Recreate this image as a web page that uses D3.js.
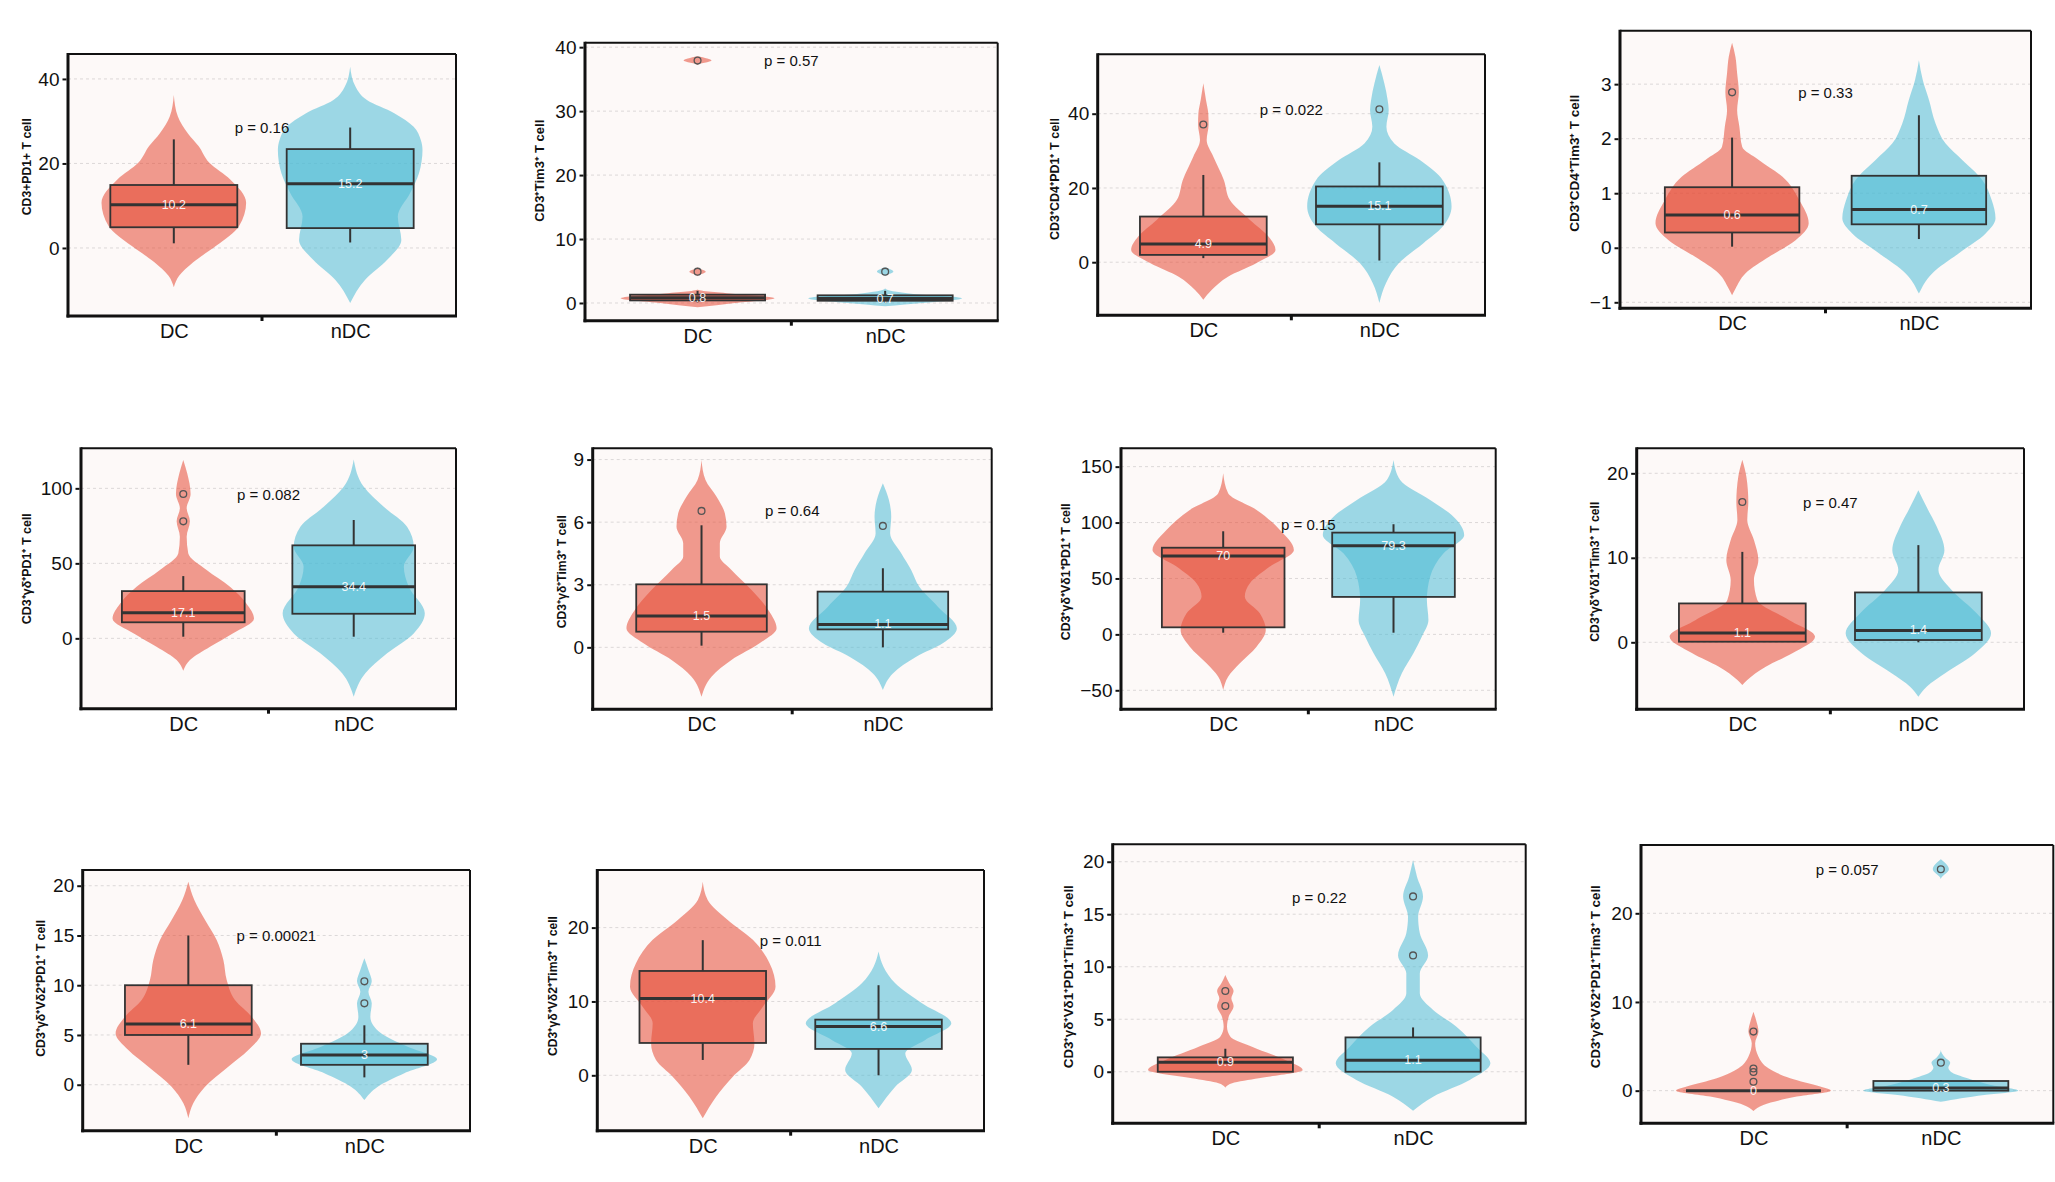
<!DOCTYPE html>
<html>
<head>
<meta charset="utf-8">
<script src="https://cdn.jsdelivr.net/npm/d3@7"></script>
<style>
  html, body { margin: 0; padding: 0; background: #ffffff; }
  #chart { width: 2055px; height: 1182px; }
</style>
</head>
<body>
<div id="chart"></div>
<script>
// data
const groups = ['DC', 'nDC'];

const cellTypes = [
    'CD3+PD1+ T cell',
    'CD3⁺Tim3⁺ T cell',
    'CD3⁺CD4⁺PD1⁺ T cell',
    'CD3⁺CD4⁺Tim3⁺ T cell',
    'CD3⁺γδ⁺PD1⁺ T cell',
    'CD3⁺γδ⁺Tim3⁺ T cell',
    'CD3⁺γδ⁺Vδ1⁺PD1⁺ T cell',
    'CD3⁺γδ⁺Vδ1⁺Tim3⁺ T cell',
    'CD3⁺γδ⁺Vδ2⁺PD1⁺ T cell',
    'CD3⁺γδ⁺Vδ2⁺Tim3⁺ T cell',
    'CD3⁺γδ⁺Vδ1⁺PD1⁺Tim3⁺ T cell',
    'CD3⁺γδ⁺Vδ2⁺PD1⁺Tim3⁺ T cell'
];

const pValues = ['0.16', '0.57', '0.022', '0.33', '0.082', '0.64', '0.15', '0.47', '0.00021', '0.011', '0.22', '0.057'];
const pLabelY = [28.5, 37.9, 41.2, 2.85, 96.2, 6.54, 98.5, 16.6, 15.0, 18.3, 16.6, 24.97];

const yLimits = [
    [-16.1, 45.9], [-2.77, 40.7], [-14.3, 56.0], [-1.11, 3.98],
    [-46.9, 126.7], [-2.97, 9.54], [-67, 166.4], [-7.93, 22.96],
    [-4.62, 21.58], [-7.5, 27.8], [-4.91, 21.66], [-3.68, 27.7]
];

const yTicks = [
    [0, 20, 40], [0, 10, 20, 30, 40], [0, 20, 40], [-1, 0, 1, 2, 3],
    [0, 50, 100], [0, 3, 6, 9], [-50, 0, 50, 100, 150], [0, 10, 20],
    [0, 5, 10, 15, 20], [0, 10, 20], [0, 5, 10, 15, 20], [0, 10, 20]
];

// [DC, nDC] per panel
const medians = [
    [10.2, 15.2], [0.8, 0.7], [4.9, 15.1], [0.6, 0.7],
    [17.1, 34.4], [1.5, 1.1], [70, 79.3], [1.1, 1.4],
    [6.1, 3], [10.4, 6.6], [0.9, 1.1], [0, 0.3]
];
const q1 = [
    [4.9, 4.7], [0.4, 0.35], [1.97, 10.2], [0.28, 0.43],
    [10.7, 16.4], [0.75, 0.86], [6.3, 33.5], [0.07, 0.27],
    [5.0, 2.0], [4.38, 3.57], [0, 0], [0, 0]
];
const q3 = [
    [14.9, 23.4], [1.3, 1.2], [12.3, 20.4], [1.11, 1.32],
    [31.5, 62.0], [3.02, 2.67], [77.5, 91.0], [4.6, 5.9],
    [10.0, 4.12], [14.13, 7.54], [1.37, 3.27], [0, 1.09]
];
const whiskerLow = [
    [1.1, 1.3], [0.1, 0.05], [1.1, 0.45], [0.02, 0.16],
    [1.1, 1.1], [0.08, 0], [1.5, 1.5], [0.07, 0],
    [2.0, 0.74], [2.08, 0], [0, 0], [0, 0]
];
const whiskerHigh = [
    [25.7, 28.5], [1.9, 1.9], [23.5, 26.9], [2.02, 2.43],
    [41.5, 78.9], [5.85, 3.79], [92.2, 98.5], [10.7, 11.5],
    [15.0, 5.97], [18.3, 12.2], [2.19, 4.22], [0, 1.2]
];
const outliers = [
    [[], []], [[4.9, 37.9], [4.9]], [[37.1], [41.2]], [[2.85], []],
    [[96.2, 78.0], []], [[6.54], [5.82]], [[], []], [[16.6], []],
    [[], [10.39, 8.18]], [[], []], [[7.69, 6.26], [16.7, 11.08]], [[6.66, 2.5, 2.1, 1.0], [3.16, 24.97]]
];

// violin outlines: [value, half width in category steps]
const violinDC = [
    [[-9.3, 0], [-6.6, 0.03], [-3.4, 0.11], [0.5, 0.24], [5.2, 0.37], [10.7, 0.41], [16.2, 0.32], [20.2, 0.2], [24.1, 0.14], [27.1, 0.08], [31.1, 0.023], [36.2, 0]],
    [[-0.67, 0], [0, 0.2], [0.75, 0.41], [1.4, 0.2], [2.1, 0], [4.2, 0], [4.9, 0.044], [5.6, 0], [37.2, 0], [37.9, 0.075], [38.6, 0]],
    [[-10.1, 0], [-7.5, 0.047], [-3.9, 0.14], [-0.27, 0.30], [3.3, 0.41], [6.9, 0.37], [11.4, 0.265], [16.8, 0.15], [22.1, 0.117], [28.4, 0.057], [32.9, 0.019], [37.1, 0.03], [40.1, 0.028], [43.7, 0.015], [48.2, 0]],
    [[-0.87, 0], [-0.75, 0.018], [-0.47, 0.071], [-0.16, 0.2], [0.14, 0.34], [0.45, 0.41], [0.87, 0.36], [1.30, 0.27], [1.61, 0.143], [1.85, 0.054], [2.22, 0.039], [2.52, 0.027], [2.85, 0.036], [3.2, 0.027], [3.5, 0.018], [3.76, 0]],
    [[-21.6, 0], [-14.5, 0.039], [-5.6, 0.157], [3.3, 0.29], [13.3, 0.415], [23.3, 0.37], [34.4, 0.274], [45.5, 0.137], [56.7, 0.029], [67.7, 0.02], [78.0, 0.039], [86.7, 0.02], [96.2, 0.043], [110, 0.023], [118.9, 0]],
    [[-2.37, 0], [-1.41, 0.055], [-0.61, 0.165], [0.19, 0.32], [0.91, 0.414], [1.79, 0.368], [2.75, 0.276], [3.71, 0.165], [4.35, 0.101], [4.99, 0.101], [5.78, 0.138], [6.42, 0.129], [7.22, 0.083], [8.02, 0.022], [8.98, 0]],
    [[-49.7, 0], [-37.8, 0.029], [-25.9, 0.098], [-11, 0.196], [3.9, 0.25], [18.9, 0.215], [33.7, 0.127], [45.7, 0.157], [60.6, 0.274], [75.5, 0.415], [93.4, 0.333], [111.3, 0.196], [126.2, 0.029], [144.1, 0]],
    [[-5.05, 0], [-4.46, 0.028], [-2.9, 0.133], [-1.3, 0.284], [0.66, 0.413], [2.64, 0.265], [5.0, 0.085], [7.37, 0.066], [9.74, 0.091], [12.1, 0.066], [14.5, 0.028], [16.6, 0.034], [19.6, 0.023], [21.6, 0]],
    [[-3.38, 0], [-1.87, 0.028], [-0.2, 0.095], [1.81, 0.227], [3.49, 0.341], [5.17, 0.413], [6.83, 0.36], [8.51, 0.265], [10.52, 0.218], [12.53, 0.199], [14.54, 0.161], [16.55, 0.095], [18.56, 0.034], [20.4, 0]],
    [[-5.83, 0], [-2.9, 0.076], [-0.18, 0.171], [2.08, 0.266], [4.34, 0.294], [7.04, 0.285], [9.3, 0.342], [12.0, 0.414], [15.18, 0.38], [18.34, 0.285], [21.04, 0.142], [23.75, 0.028], [26.2, 0]],
    [[-1.52, 0], [-1.1, 0.036], [-0.63, 0.178], [0.16, 0.412], [1.11, 0.32], [2.38, 0.142], [3.33, 0.027], [4.29, 0.009], [5.24, 0.018], [6.26, 0.044], [6.99, 0.032], [7.69, 0.044], [8.42, 0.021], [9.21, 0]],
    [[-2.29, 0], [-1.61, 0.053], [-0.67, 0.231], [0, 0.413], [0.46, 0.356], [1.4, 0.196], [2.53, 0.08], [3.83, 0.027], [5.34, 0.009], [6.66, 0.027], [7.97, 0.014], [8.91, 0]]
];
const violinNDC = [
    [[-13, 0], [-7.5, 0.085], [-2.8, 0.21], [1.9, 0.29], [7.4, 0.27], [13.0, 0.34], [17.7, 0.39], [23.2, 0.41], [25.6, 0.40], [28.7, 0.36], [31.9, 0.25], [35.0, 0.095], [38.2, 0.03], [42.9, 0]],
    [[-0.5, 0], [0, 0.2], [0.75, 0.41], [1.4, 0.15], [2.3, 0], [4.2, 0], [4.9, 0.044], [5.6, 0]],
    [[-11.0, 0], [-5.6, 0.038], [-0.3, 0.11], [5.1, 0.25], [9.6, 0.36], [15.0, 0.41], [22.1, 0.36], [27.5, 0.23], [32.0, 0.085], [36.5, 0.04], [41.0, 0.053], [43.7, 0.047], [48.2, 0.028], [53.1, 0]],
    [[-0.84, 0], [-0.47, 0.071], [-0.10, 0.214], [0.26, 0.357], [0.54, 0.41], [0.87, 0.39], [1.24, 0.34], [1.61, 0.232], [1.91, 0.143], [2.28, 0.089], [2.71, 0.054], [3.07, 0.021], [3.44, 0]],
    [[-38.9, 0], [-23.3, 0.068], [-10, 0.196], [3.3, 0.352], [16.7, 0.417], [34.4, 0.323], [47.7, 0.294], [61.1, 0.352], [74.4, 0.313], [87.7, 0.176], [101.1, 0.059], [119.3, 0]],
    [[-2.05, 0], [-1.25, 0.055], [-0.45, 0.184], [0.19, 0.33], [0.91, 0.408], [1.95, 0.303], [2.91, 0.2], [3.71, 0.156], [4.51, 0.101], [5.47, 0.04], [6.27, 0.046], [7.07, 0.033], [7.87, 0]],
    [[-55.7, 0], [-34.8, 0.049], [-16.9, 0.117], [-2.1, 0.166], [12.9, 0.205], [30.8, 0.196], [51.6, 0.215], [72.5, 0.294], [88.9, 0.415], [105.3, 0.352], [120.2, 0.215], [138.1, 0.039], [156, 0]],
    [[-6.44, 0], [-5.25, 0.047], [-3.67, 0.152], [-1.3, 0.322], [1.06, 0.413], [3.43, 0.331], [6.19, 0.189], [8.56, 0.114], [10.9, 0.148], [13.7, 0.104], [16.0, 0.047], [18.0, 0]],
    [[-1.54, 0], [-0.2, 0.076], [1.15, 0.227], [2.55, 0.413], [3.82, 0.246], [5.17, 0.095], [6.83, 0.034], [8.18, 0.042], [9.35, 0.023], [10.39, 0.042], [11.53, 0.023], [12.7, 0]],
    [[-4.47, 0], [-1.54, 0.095], [0.72, 0.19], [2.98, 0.152], [4.79, 0.266], [7.04, 0.414], [9.75, 0.247], [12.46, 0.095], [14.7, 0.028], [16.75, 0]],
    [[-3.71, 0], [-2.38, 0.107], [-0.79, 0.302], [0.8, 0.412], [2.38, 0.337], [4.29, 0.231], [5.88, 0.107], [7.47, 0.036], [9.37, 0.036], [11.08, 0.08], [13.18, 0.036], [14.76, 0.027], [16.7, 0.053], [18.57, 0.021], [20.16, 0]],
    [[-1.24, 0], [-0.48, 0.231], [0, 0.413], [0.64, 0.267], [1.4, 0.142], [2.14, 0.053], [2.6, 0.04], [3.16, 0.05], [3.8, 0.02], [4.59, 0], [23.84, 0], [24.97, 0.043], [26.1, 0]]
];

// layout (pixels): panel frame [left, top, right, bottom], y title [x, y, length]
const panelFrames = [
    [68, 54, 456, 316], [585, 42.7, 997.7, 320.7], [1097.7, 54.3, 1485, 315.3], [1620, 30.7, 2031, 308.3],
    [81, 448.3, 456, 708.7], [592.7, 448.3, 991.7, 709.3], [1121, 448.3, 1495.7, 709.3], [1636.7, 448.3, 2024, 709.3],
    [82.7, 870, 470, 1130.7], [597.3, 870, 984, 1130.7], [1112.7, 844.3, 1525.7, 1123.3], [1641, 845, 2053.3, 1123.3]
];
const titleAnchors = [
    [26.7, 166.7, 97], [540, 170.7, 102], [1055, 179, 122], [1575, 163.3, 137],
    [26.7, 568.7, 111], [561.7, 571.7, 113], [1066, 571.7, 137], [1595, 571.7, 140],
    [40.7, 988.3, 137], [553.3, 986, 140], [1069.3, 976.7, 183], [1596, 976.7, 183]
];

const FONT = '"Liberation Sans", Arial, Helvetica, sans-serif';
const fills = ['#E64B35', '#4DBBD5'];
const fillAlpha = 0.55;
const boxWidth = 0.72;

const svg = d3.select('#chart')
    .append('svg')
    .attr('width', 2055)
    .attr('height', 1182)
    .style('background', '#ffffff');

class ViolinPanel {
    constructor(svg, index) {
        this.svg = svg;
        this.i = index;
        const [l, t, r, b] = panelFrames[index];
        this.frame = { l, t, r, b };
        this.x = d3.scalePoint().domain(groups).range([l, r]).padding(0.6);
        this.y = d3.scaleLinear().domain(yLimits[index]).range([b, t]);
        this.step = this.x.step();
        this.g = svg.append('g').attr('class', 'panel');

        this.render();
    }

    render() {
        this.drawBackground();
        this.drawViolins();
        this.drawBoxes();
        this.drawLabels();
        this.drawFrame();
        this.drawAxes();
    }

    drawBackground() {
        const { l, t, r, b } = this.frame;
        this.g.append('rect')
            .attr('x', l).attr('y', t)
            .attr('width', r - l).attr('height', b - t)
            .attr('fill', '#fdf9f8');

        this.g.selectAll('.grid')
            .data(yTicks[this.i])
            .enter()
            .append('line')
            .attr('class', 'grid')
            .attr('x1', l).attr('x2', r)
            .attr('y1', d => this.y(d)).attr('y2', d => this.y(d))
            .attr('stroke', '#dcd8d8')
            .attr('stroke-width', 1)
            .attr('stroke-dasharray', '3,3');
    }

    drawViolins() {
        const { l, t, r, b } = this.frame;
        const clipId = `clip-${this.i}`;
        this.g.append('clipPath').attr('id', clipId)
            .append('rect').attr('x', l).attr('y', t).attr('width', r - l).attr('height', b - t);

        const profiles = [violinDC[this.i], violinNDC[this.i]];
        const layer = this.g.append('g').attr('clip-path', `url(#${clipId})`);

        groups.forEach((grp, k) => {
            const cx = this.x(grp);
            const area = d3.area()
                .curve(d3.curveMonotoneY)
                .y(d => this.y(d[0]))
                .x0(d => cx - d[1] * this.step)
                .x1(d => cx + d[1] * this.step);

            layer.append('path')
                .datum(profiles[k])
                .attr('d', area)
                .attr('fill', fills[k])
                .attr('fill-opacity', fillAlpha)
                .attr('stroke', 'none');
        });
    }

    drawBoxes() {
        const half = boxWidth / 2 * this.step;

        groups.forEach((grp, k) => {
            const cx = this.x(grp);
            const g = this.g.append('g').attr('class', 'box');

            // whiskers
            g.append('line')
                .attr('x1', cx).attr('x2', cx)
                .attr('y1', this.y(whiskerLow[this.i][k])).attr('y2', this.y(q1[this.i][k]))
                .attr('stroke', '#333').attr('stroke-width', 2);
            g.append('line')
                .attr('x1', cx).attr('x2', cx)
                .attr('y1', this.y(q3[this.i][k])).attr('y2', this.y(whiskerHigh[this.i][k]))
                .attr('stroke', '#333').attr('stroke-width', 2);

            g.append('rect')
                .attr('x', cx - half)
                .attr('y', this.y(q3[this.i][k]))
                .attr('width', half * 2)
                .attr('height', this.y(q1[this.i][k]) - this.y(q3[this.i][k]))
                .attr('fill', fills[k])
                .attr('fill-opacity', fillAlpha)
                .attr('stroke', '#333')
                .attr('stroke-width', 1.8);

            g.append('line')
                .attr('x1', cx - half).attr('x2', cx + half)
                .attr('y1', this.y(medians[this.i][k])).attr('y2', this.y(medians[this.i][k]))
                .attr('stroke', '#333').attr('stroke-width', 3);

            g.selectAll('.outlier')
                .data(outliers[this.i][k])
                .enter()
                .append('circle')
                .attr('class', 'outlier')
                .attr('cx', cx)
                .attr('cy', d => this.y(d))
                .attr('r', 3.4)
                .attr('fill', 'none')
                .attr('stroke', '#555')
                .attr('stroke-width', 1.3);

            g.append('text')
                .attr('x', cx)
                .attr('y', this.y(medians[this.i][k]))
                .attr('text-anchor', 'middle')
                .attr('dominant-baseline', 'central')
                .attr('font-family', FONT)
                .attr('font-size', 12.5)
                .attr('fill', '#ffffff')
                .attr('fill-opacity', 0.92)
                .text(String(medians[this.i][k]));
        });
    }

    drawLabels() {
        const xm = (this.x(groups[0]) + this.x(groups[1])) / 2;
        this.g.append('text')
            .attr('x', xm)
            .attr('y', this.y(pLabelY[this.i]))
            .attr('text-anchor', 'middle')
            .attr('dominant-baseline', 'central')
            .attr('font-family', FONT)
            .attr('font-size', 15)
            .attr('fill', '#111')
            .text(`p = ${pValues[this.i]}`);

        const [tx, ty, len] = titleAnchors[this.i];
        this.g.append('text')
            .attr('transform', `translate(${tx},${ty}) rotate(-90)`)
            .attr('text-anchor', 'middle')
            .attr('dominant-baseline', 'central')
            .attr('font-family', FONT)
            .attr('font-size', 12)
            .attr('font-weight', 'bold')
            .attr('fill', '#111')
            .attr('textLength', len)
            .attr('lengthAdjust', 'spacingAndGlyphs')
            .text(cellTypes[this.i]);
    }

    drawFrame() {
        const { l, t, r, b } = this.frame;
        const fr = this.g.append('g').attr('stroke', '#111');
        fr.append('line').attr('x1', l).attr('x2', r).attr('y1', t).attr('y2', t).attr('stroke-width', 2);
        fr.append('line').attr('x1', r).attr('x2', r).attr('y1', t).attr('y2', b).attr('stroke-width', 2);
        fr.append('line').attr('x1', l).attr('x2', l).attr('y1', t - 1).attr('y2', b + 1.5).attr('stroke-width', 3);
        fr.append('line').attr('x1', l - 1.5).attr('x2', r + 1).attr('y1', b).attr('y2', b).attr('stroke-width', 3);

        const xm = (this.x(groups[0]) + this.x(groups[1])) / 2;
        fr.append('line').attr('x1', xm).attr('x2', xm).attr('y1', b).attr('y2', b + 5).attr('stroke-width', 3);
    }

    drawAxes() {
        const { l, b } = this.frame;
        const yAxis = d3.axisLeft(this.y)
            .tickValues(yTicks[this.i])
            .tickSize(4)
            .tickPadding(3)
            .tickFormat(d3.format('d'));

        const ya = this.g.append('g')
            .attr('transform', `translate(${l - 1.5},0)`)
            .call(yAxis);
        ya.select('.domain').remove();
        ya.attr('font-family', FONT).attr('font-size', 19);
        ya.selectAll('.tick line').attr('stroke', '#111').attr('stroke-width', 2);
        ya.selectAll('.tick text').attr('fill', '#111');

        const xAxis = d3.axisBottom(this.x).tickSize(0).tickPadding(8);
        const xa = this.g.append('g')
            .attr('transform', `translate(0,${b})`)
            .call(xAxis);
        xa.select('.domain').remove();
        xa.attr('font-family', FONT).attr('font-size', 20);
        xa.selectAll('.tick text').attr('fill', '#111');
    }
}

const panels = cellTypes.map((_, i) => new ViolinPanel(svg, i));
</script>
</body>
</html>
